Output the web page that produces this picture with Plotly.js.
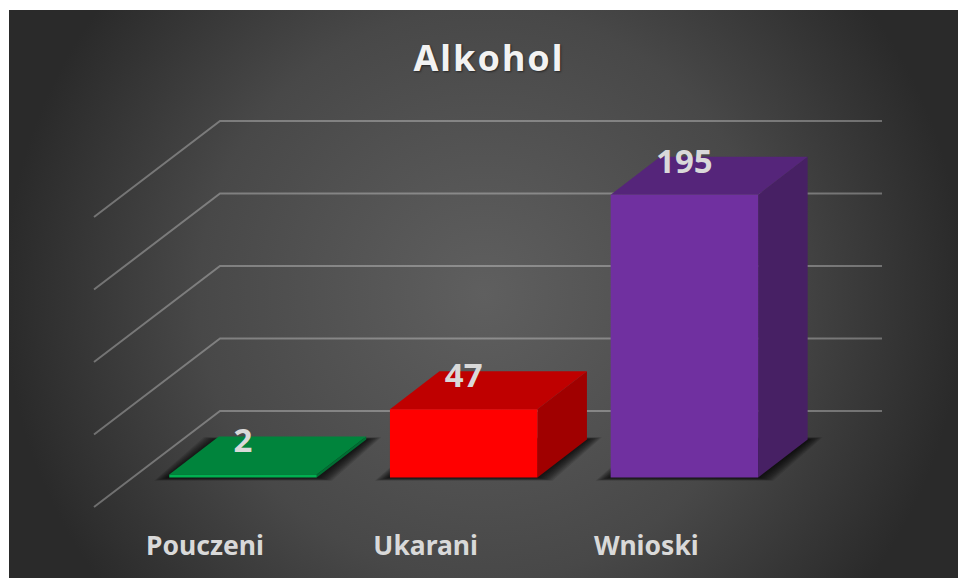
<!DOCTYPE html>
<html><head><meta charset="utf-8">
<script src="https://cdn.plot.ly/plotly-3.0.1.min.js"></script>
<style>
html,body{margin:0;padding:0;background:#fff;width:958px;height:578px;overflow:hidden}
#bg{position:absolute;left:9px;top:10px;width:949px;height:568px;background:radial-gradient(circle at 475px 284px,#5f5f5f 0,#484848 285px,#2a2a2a 480px)}
#c{position:absolute;left:0;top:0;width:958px;height:578px}
.gtitle{letter-spacing:2px}
</style></head><body><div id="bg"></div><div id="c"></div>
<script>
const titleText = "Alkohol";
const categories = ["Pouczeni","Ukarani","Wnioski"];
const values = [2,47,195];
const gridValues = [0,50,100,150,200];
const frontColors = ["#00b050","#ff0000","#7030a0"];
const topColors = ["#00843c","#bf0000","#55257a"];
const sideColors = ["#006f33","#a00000","#472064"];

// Axis scales: x in category units, y in value units, chosen so the page maps 1:1
const W=958,H=578,pxPerCat=220.7,pxPerVal=1.45,x0Px=243,y0Px=477.5;
const xRange=[-x0Px/pxPerCat,(W-x0Px)/pxPerCat];
const yRange=[(y0Px-H)/pxPerVal,y0Px/pxPerVal];
const barW=147.5/pxPerCat, dX=49.5/pxPerCat, dY=38/pxPerVal;      // bar width and depth projection
const backY=66.5/pxPerVal, frontY=-29.5/pxPerVal;
const wallLeft=(220-x0Px)/pxPerCat, wallRight=(882-x0Px)/pxPerCat, floorLeft=(94-x0Px)/pxPerCat;

const traces=[];
function poly(xs,ys,color){traces.push({type:"scatter",mode:"lines",x:xs.concat(xs[0]),y:ys.concat(ys[0]),fill:"toself",fillcolor:color,line:{width:0,color:color},hoverinfo:"skip"});}

gridValues.forEach(v=>{
  const y=v+backY;
  traces.push({type:"scatter",mode:"lines",
    x:[floorLeft,wallLeft,wallRight],
    y:[v+frontY,y,y],
    line:{color:"rgba(255,255,255,0.3)",width:2},hoverinfo:"skip"});
});

// soft floor shadows
const shadowSteps=[15,13.5,12,10.5,9,7.5,6,4.5,3,1.5];
values.forEach((v,i)=>{
  shadowSteps.forEach(e=>{
    const ex=e/pxPerCat, ey=e*0.3/pxPerVal;
    const l=i-barW/2, r=i+barW/2;
    poly([l-ex,r+ex,r+dX+ex,l+dX-ex],[-ey*0.7,-ey*0.7,dY+ey*0.5,dY+ey*0.5],"rgba(0,0,0,0.11)");
  });
});

// bars: oblique projection of each value
values.forEach((v,i)=>{
  const l=i-barW/2, r=i+barW/2;
  poly([r,r+dX,r+dX,r],[0,dY,v+dY,v],sideColors[i]);
  poly([l,r,r+dX,l+dX],[v,v,v+dY,v+dY],topColors[i]);
  poly([l,r,r,l],[0,0,v,v],frontColors[i]);
});

const textFont="'Noto Sans',sans-serif";
traces.push({type:"scatter",mode:"text",x:categories.map((c,i)=>i),y:values.map(v=>v+30.5/pxPerVal),
  text:values.map(String),textposition:"middle center",cliponaxis:false,
  textfont:{family:textFont,size:33,color:"#d9d9d9",weight:700},hoverinfo:"skip"});
traces.push({type:"scatter",mode:"text",x:categories.map((c,i)=>i-38/pxPerCat),y:categories.map(()=>(y0Px-548.5)/pxPerVal),
  text:categories,textposition:"middle center",cliponaxis:false,
  textfont:{family:textFont,size:26.5,color:"#d9d9d9",weight:700},hoverinfo:"skip"});

const axis={visible:false,fixedrange:true,showgrid:false,zeroline:false};
Plotly.newPlot("c",traces,{
  width:W,height:H,margin:{l:0,r:0,t:0,b:0,pad:0},
  paper_bgcolor:"rgba(0,0,0,0)",plot_bgcolor:"rgba(0,0,0,0)",showlegend:false,
  title:{text:titleText,x:489/W,xanchor:"center",y:1-58/H,yanchor:"middle",
    font:{family:textFont,size:36,color:"#f2f2f2",weight:700,shadow:"1px 1px 2px rgba(0,0,0,0.5)"}},
  xaxis:Object.assign({range:xRange},axis),
  yaxis:Object.assign({range:yRange},axis)
},{displayModeBar:false,staticPlot:true});
</script></body></html>
